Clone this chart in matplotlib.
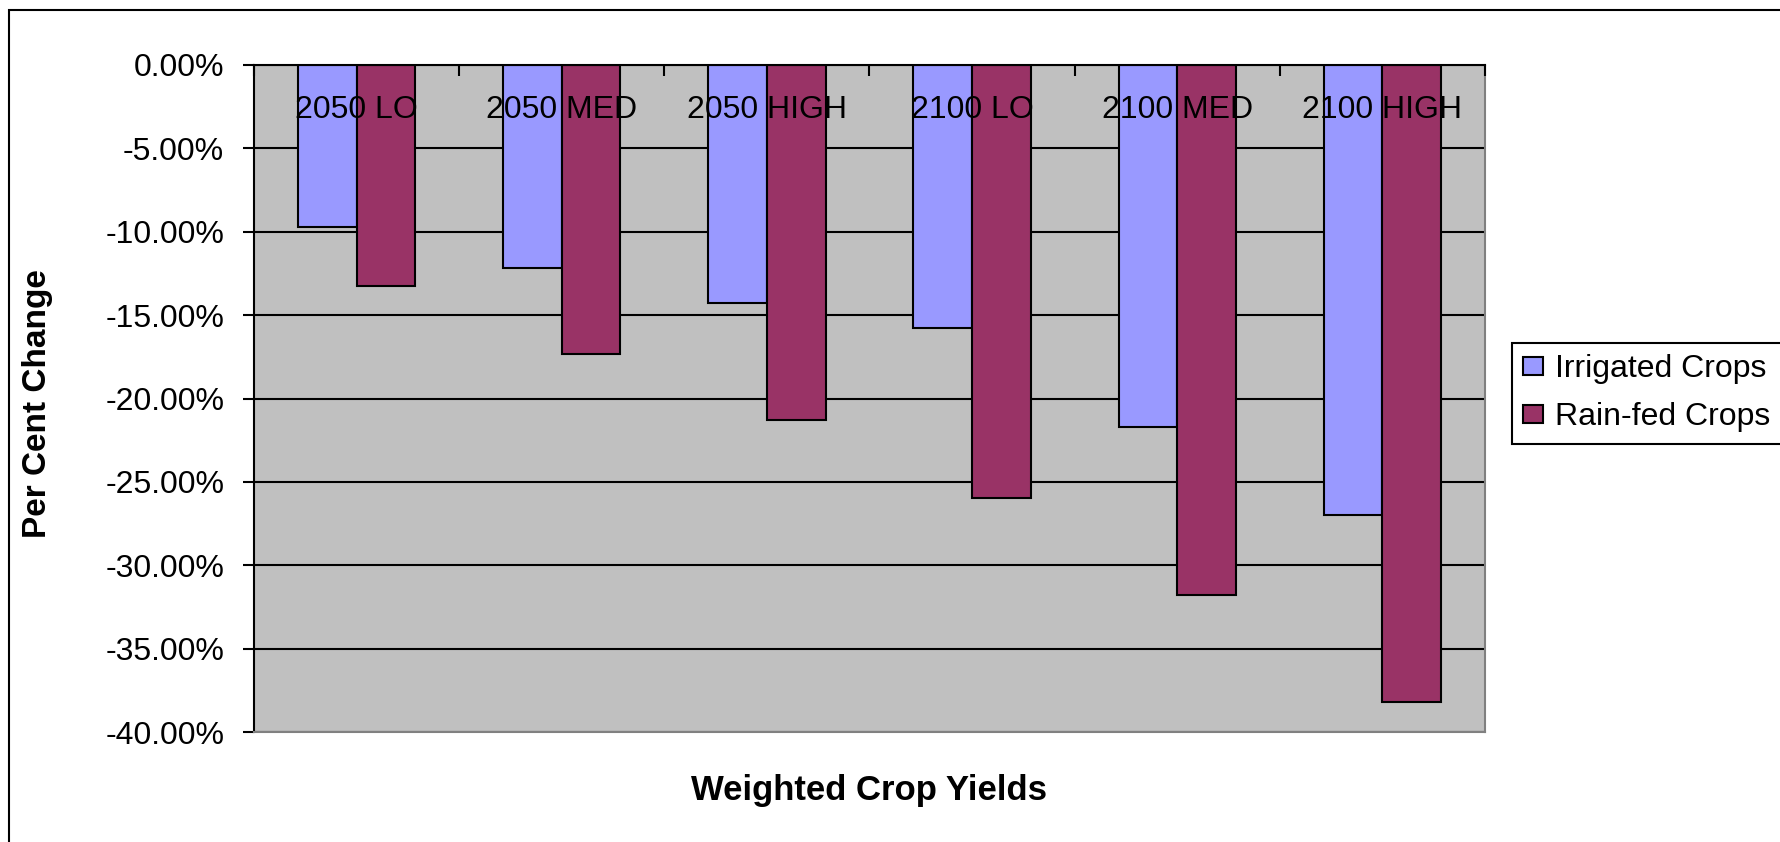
import numpy as np
import matplotlib.pyplot as plt
from matplotlib.patches import Rectangle

plt.rcParams['font.family'] = ['Liberation Sans', 'DejaVu Sans']

# scenario yields, per cent change against baseline
scenarios = ['2050 LO', '2050 MED', '2050 HIGH', '2100 LO', '2100 MED', '2100 HIGH']
irrigated = [-9.72, -12.2, -14.26, -15.8, -21.7, -26.97]
rain_fed = [-13.27, -17.35, -21.26, -25.94, -31.8, -38.18]
y_ticks = np.arange(-40, 1, 5)

W, H = 1781, 842
fig = plt.figure(figsize=(W / 100, H / 100), dpi=100)
ax = fig.add_axes([254 / W, 1 - 732 / H, (1485 - 254) / W, (732 - 65) / H])
ax.set_facecolor('#C0C0C0')

x = np.arange(len(scenarios))
width = 1 / 3.5  # excel gap width 150%
ax.bar(x - width / 2, irrigated, width, color='#9999FF', edgecolor='black',
       linewidth=1.5, label='Irrigated Crops', zorder=2)
ax.bar(x + width / 2, rain_fed, width, color='#993366', edgecolor='black',
       linewidth=1.5, label='Rain-fed Crops', zorder=2)

ax.set_xlim(-0.5, len(scenarios) - 0.5)
ax.set_ylim(-40, 0)

# category names sit just under the zero line
ax.set_xticks(x, scenarios)
ax.set_xticks(np.arange(len(scenarios) + 1) - 0.5, minor=True)
ax.tick_params(axis='x', which='major', bottom=False, top=False,
               labelbottom=False, labeltop=True, labelsize=23, pad=-36)
ax.tick_params(axis='x', which='minor', bottom=False, top=True,
               direction='in', length=8, width=1.5)
plt.setp(ax.get_xticklabels(), va='center')

ax.set_yticks(y_ticks, [f'{v:.2f}%' for v in y_ticks])
ax.tick_params(axis='y', direction='out', length=8, width=1.5,
               labelsize=23, pad=13.5)

ax.yaxis.grid(True, color='black', linewidth=1.5)
ax.set_axisbelow(True)
# gridlines stay under the bars, the category names go over them
ax.xaxis.set_zorder(3)

for side in ['left', 'top']:
    ax.spines[side].set_color('black')
    ax.spines[side].set_linewidth(1.5)
for side in ['right', 'bottom']:
    ax.spines[side].set_color('#808080')
    ax.spines[side].set_linewidth(1.5)

ax.set_ylabel('Per Cent Change', fontsize=24, fontweight='bold', va='center')
ax.yaxis.set_label_coords(-0.176, 0.493)
ax.set_xlabel('Weighted Crop Yields', fontsize=25, fontweight='bold', va='center')
ax.xaxis.set_label_coords(0.5, -0.087)

leg = fig.legend(loc='upper left', bbox_to_anchor=(1512 / W, 1 - 343 / H),
                 fontsize=23, frameon=True, fancybox=False, edgecolor='black',
                 framealpha=1, borderpad=0.36, labelspacing=0.56,
                 handlelength=0.6, handleheight=0.5, handletextpad=0.4,
                 borderaxespad=0)
leg.get_frame().set_linewidth(1.5)

# chart area border, runs off the right and bottom edges
fig.add_artist(Rectangle((9.5 / W, -0.1), 2, 1.1 - 10 / H,
                         transform=fig.transFigure, fill=False,
                         edgecolor='black', linewidth=1.5))

fig.savefig('out.png', dpi=100)
